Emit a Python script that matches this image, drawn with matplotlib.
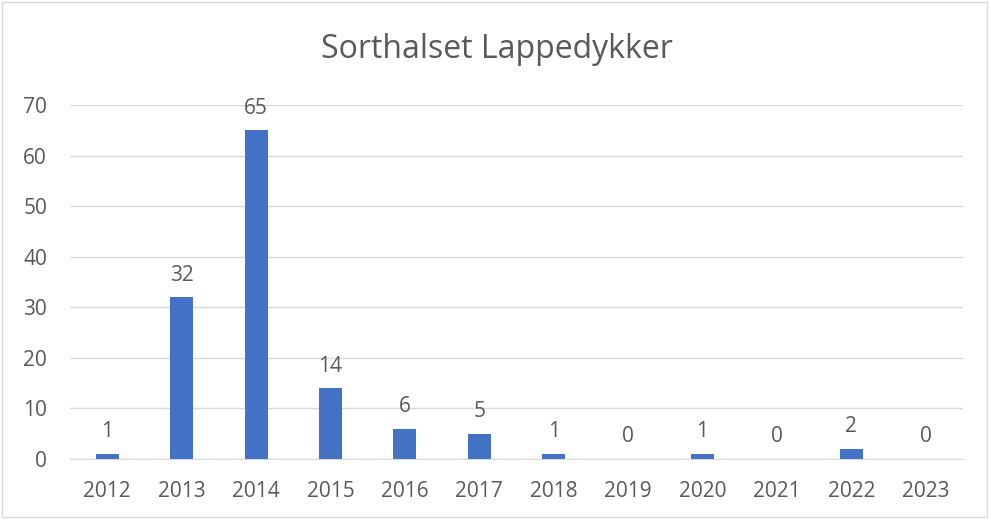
import matplotlib
matplotlib.use("Agg")
import matplotlib.pyplot as plt
from matplotlib.patches import Rectangle

years = ["2012", "2013", "2014", "2015", "2016", "2017", "2018", "2019", "2020", "2021", "2022", "2023"]
counts = [1, 32, 65, 14, 6, 5, 1, 0, 1, 0, 2, 0]
yticks = [0, 10, 20, 30, 40, 50, 60, 70]
title = "Sorthalset Lappedykker"

plt.rcParams['font.family'] = ['Open Sans', 'DejaVu Sans']
txt = '#595959'

fig = plt.figure(figsize=(9.9, 5.19), dpi=100)
ax = fig.add_axes([70/990, 1-459/519, (963-70)/990, (459-105)/519])

x = list(range(len(years)))
ax.bar(x, counts, width=0.31, color='#4472C4', zorder=3)
ax.set_xlim(-0.5, len(years)-0.5)
ax.set_ylim(0, 70)
ax.set_yticks(yticks)
ax.set_xticks(x)
ax.set_xticklabels(years)
ax.grid(axis='y', color='#D9D9D9', linewidth=1, zorder=0)
for s in ['top', 'right', 'left']:
    ax.spines[s].set_visible(False)
ax.spines['bottom'].set_color('#D9D9D9')
ax.tick_params(axis='both', length=0, labelsize=15, labelcolor=txt)
ax.tick_params(axis='x', pad=15.5)
ax.tick_params(axis='y', pad=16.5)

for xi, v in zip(x, counts):
    ax.annotate(str(v), (xi, v), xytext=(0, 12), textcoords='offset points',
                ha='center', va='baseline', fontsize=15, color=txt)

fig.text(497/990, 1-49/519, title, ha='center', va='center', fontsize=23, color=txt)
fig.patches.append(Rectangle((0.002, 0.003), 0.995, 0.994, transform=fig.transFigure,
                             fill=False, edgecolor='#D9D9D9', linewidth=1))
fig.savefig('out.png', dpi=100)
